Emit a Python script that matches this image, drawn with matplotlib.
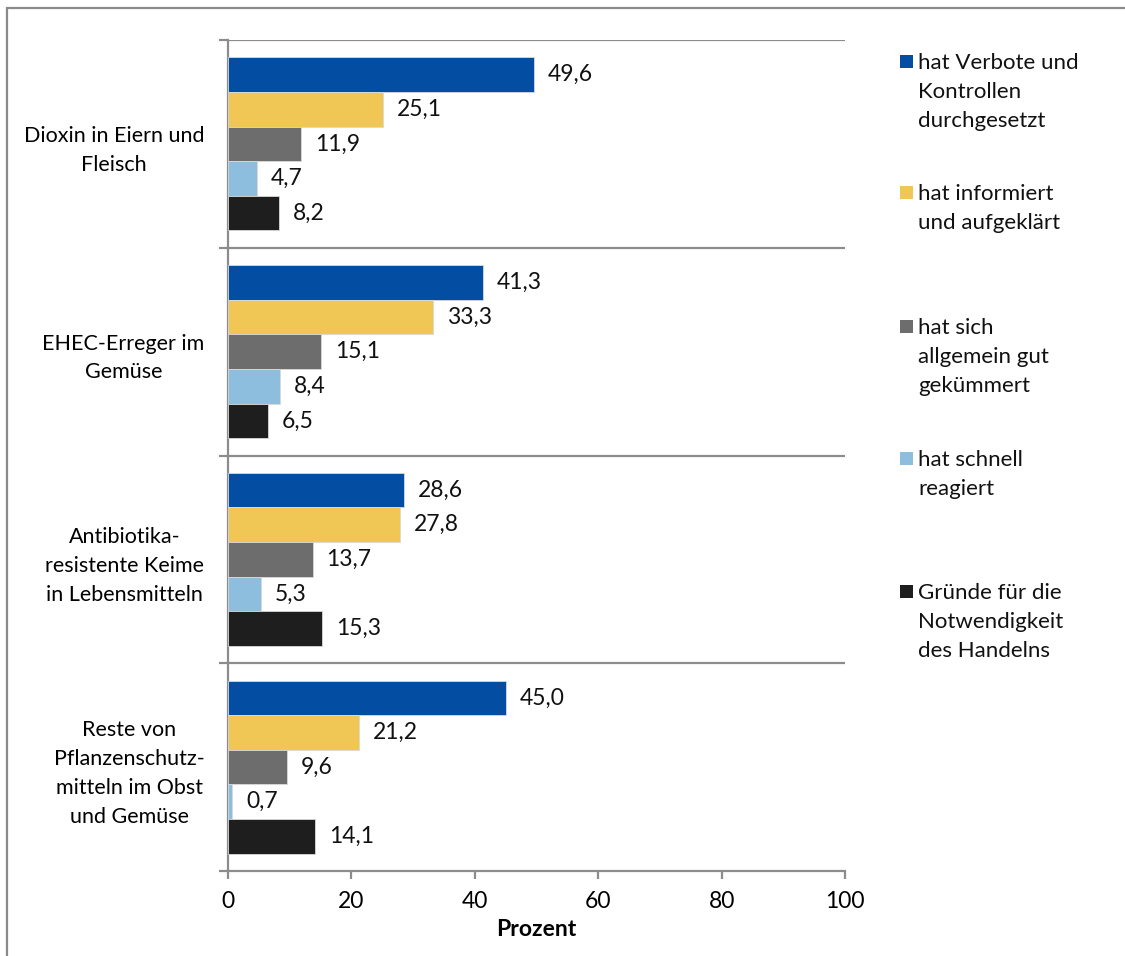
import matplotlib
matplotlib.use("Agg")
import matplotlib.pyplot as plt
from matplotlib.patches import Rectangle
import numpy as np

plt.rcParams['font.family'] = ['Lato', 'DejaVu Sans']

categories = [
    "Dioxin in Eiern und\nFleisch",
    "EHEC-Erreger im\nGemüse",
    "Antibiotika-\nresistente Keime\nin Lebensmitteln",
    "Reste von\nPflanzenschutz-\nmitteln im Obst\nund Gemüse",
]
series_names = [
    "hat Verbote und\nKontrollen\ndurchgesetzt",
    "hat informiert\nund aufgeklärt",
    "hat sich\nallgemein gut\ngekümmert",
    "hat schnell\nreagiert",
    "Gründe für die\nNotwendigkeit\ndes Handelns",
]
verbote = [49.6, 41.3, 28.6, 45.0]
informiert = [25.1, 33.3, 27.8, 21.2]
gekuemmert = [11.9, 15.1, 13.7, 9.6]
schnell = [4.7, 8.4, 5.3, 0.7]
gruende = [8.2, 6.5, 15.3, 14.1]
series_values = [verbote, informiert, gekuemmert, schnell, gruende]
colors = ["#034EA2", "#F0C755", "#6D6D6D", "#8DBEDD", "#1E1E1E"]
x_ticks = [0, 20, 40, 60, 80, 100]

W, H = 1125, 956
fig = plt.figure(figsize=(W / 100, H / 100), dpi=100)
ax = fig.add_axes([228 / W, 1 - 871 / H, (845 - 228) / W, (871 - 40) / H])

# outer frame of the chart area
fig.patches.append(Rectangle((7 / W, -0.05), 1.2, 1 - 8 / H + 0.05,
                             transform=fig.transFigure, fill=False,
                             edgecolor="#8a8a8a", linewidth=1.6))

n_series = len(series_values)
bar_h = 1.0 / (n_series + 1)
y_idx = np.arange(len(categories))
for k, (vals, col) in enumerate(zip(series_values, colors)):
    ypos = y_idx - 0.5 + bar_h / 2 + (k + 0.5) * bar_h
    ax.barh(ypos, vals, height=bar_h, color=col, edgecolor="#d9d9d9",
            linewidth=0.6, zorder=3)
    for yy, v in zip(ypos, vals):
        ax.annotate(f"{v:.1f}".replace(".", ","), xy=(v, yy),
                    xytext=(10, 0), textcoords="offset points",
                    ha="left", va="center", fontsize=16.5, color="#111111")

ax.set_xlim(0, 100)
ax.set_ylim(len(categories) - 0.5, -0.5)

# category separators
for b in np.arange(-0.5, len(categories) - 0.5 + 1e-9, 1.0)[:-1]:
    ax.axhline(b, color="#8c8c8c", linewidth=1.6, zorder=2)

ax.set_yticks(y_idx)
ax.set_yticklabels(categories, fontsize=15.5, ha="right",
                   multialignment="center", linespacing=1.55)
ax.tick_params(axis="y", length=0, pad=17)
ax.set_yticks(np.arange(-0.5, len(categories) + 0.5, 1.0), minor=True)
ax.tick_params(axis="y", which="minor", length=6.5, width=1.6,
               color="#8c8c8c", direction="out")

ax.set_xticks(x_ticks)
ax.set_xticklabels([str(t) for t in x_ticks], fontsize=16.5)
ax.tick_params(axis="x", length=5.5, width=1.6, color="#8c8c8c", pad=9)
ax.set_xlabel("Prozent", fontsize=16.5, fontweight="bold", labelpad=5)

for s in ["top", "right"]:
    ax.spines[s].set_visible(False)
for s in ["left", "bottom"]:
    ax.spines[s].set_color("#8c8c8c")
    ax.spines[s].set_linewidth(1.6)
ax.spines["bottom"].set_zorder(4)

# legend on the right
leg_tops = [61, 192, 326, 458, 591]
for name, col, yt in zip(series_names, colors, leg_tops):
    fig.patches.append(Rectangle((900 / W, 1 - (yt + 7) / H), 13 / W, 13 / H,
                                 transform=fig.transFigure, facecolor=col,
                                 edgecolor="none"))
    fig.text(918 / W, 1 - (yt - 8) / H, name, ha="left", va="top",
             fontsize=16, linespacing=1.55, color="#111111")

fig.savefig("out.png", dpi=100, facecolor="white")
